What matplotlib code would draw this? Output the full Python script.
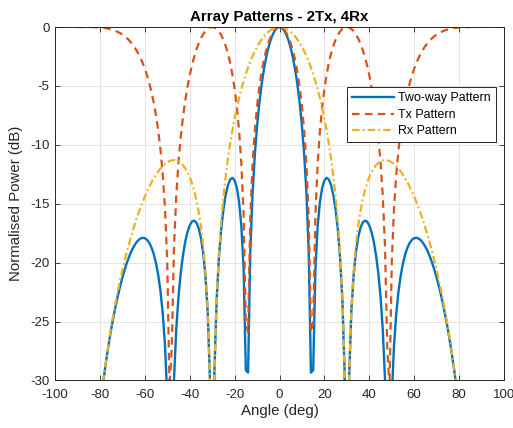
import numpy as np
import matplotlib
matplotlib.use('Agg')
import matplotlib.pyplot as plt

plt.rcParams['font.family'] = ['Liberation Sans', 'DejaVu Sans']
plt.rcParams['axes.unicode_minus'] = False

# Angles sampled every degree, -90 .. 90
angle_deg = np.arange(-90, 91)

# Values (dB). Points far below -30 dB are off the plot.
two_way_db = [
    -300.0, -72.43, -60.39, -53.34, -48.35, -44.48, -41.31, -38.64, -36.33, -34.30,  # -90..-81
    -32.50, -30.87, -29.39, -28.05, -26.82, -25.68, -24.65, -23.69, -22.81, -22.01,  # -80..-71
    -21.28, -20.62, -20.02, -19.50, -19.04, -18.66, -18.35, -18.11, -17.96, -17.89,  # -70..-61
    -17.92, -18.06, -18.32, -18.72, -19.28, -20.05, -21.07, -22.44, -24.32, -27.03,  # -60..-51
    -31.43, -41.96, -38.64, -29.95, -25.69, -22.90, -20.89, -19.38, -18.24, -17.41,  # -50..-41
    -16.84, -16.51, -16.43, -16.61, -17.08, -17.90, -19.18, -21.10, -24.14, -29.78,  # -40..-31
    -300.0, -29.28, -23.15, -19.62, -17.23, -15.51, -14.28, -13.44, -12.95, -12.80,  # -30..-21
    -13.01, -13.65, -14.85, -16.89, -20.51, -29.13, -29.33, -19.03, -14.13, -10.85,  # -20..-11
    -8.41, -6.48, -4.92, -3.66, -2.62, -1.78, -1.13, -0.63, -0.28, -0.07,  # -10..-1
    0.00,
    -0.07, -0.28, -0.63, -1.13, -1.78, -2.62, -3.66, -4.92, -6.48, -8.41,  # 1..10
    -10.85, -14.13, -19.03, -29.33, -29.13, -20.51, -16.89, -14.85, -13.65, -13.01,  # 11..20
    -12.80, -12.95, -13.44, -14.28, -15.51, -17.23, -19.62, -23.15, -29.28, -300.0,  # 21..30
    -29.78, -24.14, -21.10, -19.18, -17.90, -17.08, -16.61, -16.43, -16.51, -16.84,  # 31..40
    -17.41, -18.24, -19.38, -20.89, -22.90, -25.69, -29.95, -38.64, -41.96, -31.43,  # 41..50
    -27.03, -24.32, -22.44, -21.07, -20.05, -19.28, -18.72, -18.32, -18.06, -17.92,  # 51..60
    -17.89, -17.96, -18.11, -18.35, -18.66, -19.04, -19.50, -20.02, -20.62, -21.28,  # 61..70
    -22.01, -22.81, -23.69, -24.65, -25.68, -26.82, -28.05, -29.39, -30.87, -32.50,  # 71..80
    -34.30, -36.33, -38.64, -41.31, -44.48, -48.35, -53.34, -60.39, -72.43, -300.0,  # 81..90
]

tx_db = [
    0.00, 0.00, 0.00, 0.00, 0.00, 0.00, -0.01, -0.01, -0.02, -0.03,  # -90..-81
    -0.04, -0.06, -0.08, -0.11, -0.15, -0.20, -0.26, -0.33, -0.42, -0.52,  # -80..-71
    -0.64, -0.78, -0.94, -1.13, -1.35, -1.60, -1.89, -2.22, -2.60, -3.03,  # -70..-61
    -3.53, -4.10, -4.76, -5.54, -6.44, -7.52, -8.82, -10.43, -12.52, -15.41,  # -60..-51
    -19.95, -30.58, -27.32, -18.65, -14.36, -11.49, -9.35, -7.65, -6.26, -5.09,  # -50..-41
    -4.10, -3.25, -2.53, -1.91, -1.39, -0.96, -0.62, -0.35, -0.15, -0.04,  # -40..-31
    0.00, -0.04, -0.16, -0.37, -0.67, -1.07, -1.59, -2.23, -3.03, -4.02,  # -30..-21
    -5.25, -6.80, -8.82, -11.60, -15.90, -25.13, -25.89, -16.10, -11.66, -8.79,  # -20..-11
    -6.72, -5.12, -3.86, -2.84, -2.03, -1.37, -0.86, -0.48, -0.21, -0.05,  # -10..-1
    0.00,
    -0.05, -0.21, -0.48, -0.86, -1.37, -2.03, -2.84, -3.86, -5.12, -6.72,  # 1..10
    -8.79, -11.66, -16.10, -25.89, -25.13, -15.90, -11.60, -8.82, -6.80, -5.25,  # 11..20
    -4.02, -3.03, -2.23, -1.59, -1.07, -0.67, -0.37, -0.16, -0.04, 0.00,  # 21..30
    -0.04, -0.15, -0.35, -0.62, -0.96, -1.39, -1.91, -2.53, -3.25, -4.10,  # 31..40
    -5.09, -6.26, -7.65, -9.35, -11.49, -14.36, -18.65, -27.32, -30.58, -19.95,  # 41..50
    -15.41, -12.52, -10.43, -8.82, -7.52, -6.44, -5.54, -4.76, -4.10, -3.53,  # 51..60
    -3.03, -2.60, -2.22, -1.89, -1.60, -1.35, -1.13, -0.94, -0.78, -0.64,  # 61..70
    -0.52, -0.42, -0.33, -0.26, -0.20, -0.15, -0.11, -0.08, -0.06, -0.04,  # 71..80
    -0.03, -0.02, -0.01, -0.01, 0.00, 0.00, 0.00, 0.00, 0.00, 0.00,  # 81..90
]

rx_db = [
    -300.0, -72.43, -60.39, -53.34, -48.35, -44.47, -41.31, -38.63, -36.32, -34.28,  # -90..-81
    -32.46, -30.81, -29.31, -27.93, -26.66, -25.48, -24.39, -23.36, -22.40, -21.49,  # -80..-71
    -20.64, -19.84, -19.08, -18.37, -17.69, -17.06, -16.46, -15.89, -15.36, -14.86,  # -70..-61
    -14.40, -13.96, -13.56, -13.18, -12.84, -12.53, -12.26, -12.01, -11.80, -11.63,  # -60..-51
    -11.49, -11.38, -11.32, -11.30, -11.33, -11.41, -11.54, -11.73, -11.99, -12.32,  # -50..-41
    -12.74, -13.26, -13.90, -14.70, -15.69, -16.94, -18.56, -20.76, -23.99, -29.74,  # -40..-31
    -300.0, -29.24, -22.99, -19.26, -16.56, -14.44, -12.70, -11.21, -9.92, -8.78,  # -30..-21
    -7.76, -6.85, -6.03, -5.29, -4.61, -4.00, -3.44, -2.93, -2.47, -2.06,  # -20..-11
    -1.69, -1.36, -1.07, -0.81, -0.60, -0.41, -0.26, -0.15, -0.07, -0.02,  # -10..-1
    0.00,
    -0.02, -0.07, -0.15, -0.26, -0.41, -0.60, -0.81, -1.07, -1.36, -1.69,  # 1..10
    -2.06, -2.47, -2.93, -3.44, -4.00, -4.61, -5.29, -6.03, -6.85, -7.76,  # 11..20
    -8.78, -9.92, -11.21, -12.70, -14.44, -16.56, -19.26, -22.99, -29.24, -300.0,  # 21..30
    -29.74, -23.99, -20.76, -18.56, -16.94, -15.69, -14.70, -13.90, -13.26, -12.74,  # 31..40
    -12.32, -11.99, -11.73, -11.54, -11.41, -11.33, -11.30, -11.32, -11.38, -11.49,  # 41..50
    -11.63, -11.80, -12.01, -12.26, -12.53, -12.84, -13.18, -13.56, -13.96, -14.40,  # 51..60
    -14.86, -15.36, -15.89, -16.46, -17.06, -17.69, -18.37, -19.08, -19.84, -20.64,  # 61..70
    -21.49, -22.40, -23.36, -24.39, -25.48, -26.66, -27.93, -29.31, -30.81, -32.46,  # 71..80
    -34.28, -36.32, -38.63, -41.31, -44.47, -48.35, -53.34, -60.39, -72.43, -300.0,  # 81..90
]

series_labels = ['Two-way Pattern', 'Tx Pattern', 'Rx Pattern']

# MATLAB default colour order
blue = '#0072BD'
red = '#D95319'
yellow = '#EDB120'
axis_grey = '#262626'

fig = plt.figure(figsize=(5.13, 4.28), dpi=100)
ax = fig.add_axes([0.1072, 0.1110, 0.8753, 0.8259])

ax.plot(angle_deg, two_way_db, color=blue, lw=1.7, label=series_labels[0])
ax.plot(angle_deg, tx_db, color=red, lw=1.6, dashes=(3.4, 2.4), label=series_labels[1])
ax.plot(angle_deg, rx_db, color=yellow, lw=1.6, dashes=(3.4, 1.4, 0.8, 1.4), label=series_labels[2])

ax.set_xlim(-100, 100)
ax.set_ylim(-30, 0)
ax.set_xticks(np.arange(-100, 101, 20))
ax.set_yticks(np.arange(-30, 1, 5))

ax.grid(True, color='#e0e0e0', lw=0.6)
ax.set_axisbelow(True)
ax.tick_params(direction='in', length=3.5, width=0.6, top=True, right=True,
               labelsize=9.5, colors=axis_grey)
ax.tick_params(axis='x', pad=6)
ax.tick_params(axis='y', pad=4)
for spine in ax.spines.values():
    spine.set_color(axis_grey)
    spine.set_linewidth(0.7)

ax.set_title('Array Patterns - 2Tx, 4Rx', fontsize=10.8, fontweight='bold', pad=4)
ax.set_xlabel('Angle (deg)', fontsize=10.8, color=axis_grey, labelpad=2)
ax.set_ylabel('Normalised Power (dB)', fontsize=10.8, color=axis_grey, labelpad=5)

leg = ax.legend(loc='upper right', bbox_to_anchor=(0.982, 0.829), fontsize=8.9,
                handlelength=3.4, handletextpad=0.35, labelspacing=0.36,
                borderpad=0.4, fancybox=False, framealpha=1, borderaxespad=0)
leg.get_frame().set_edgecolor(axis_grey)
leg.get_frame().set_linewidth(0.7)

fig.savefig('out.png', dpi=100)
